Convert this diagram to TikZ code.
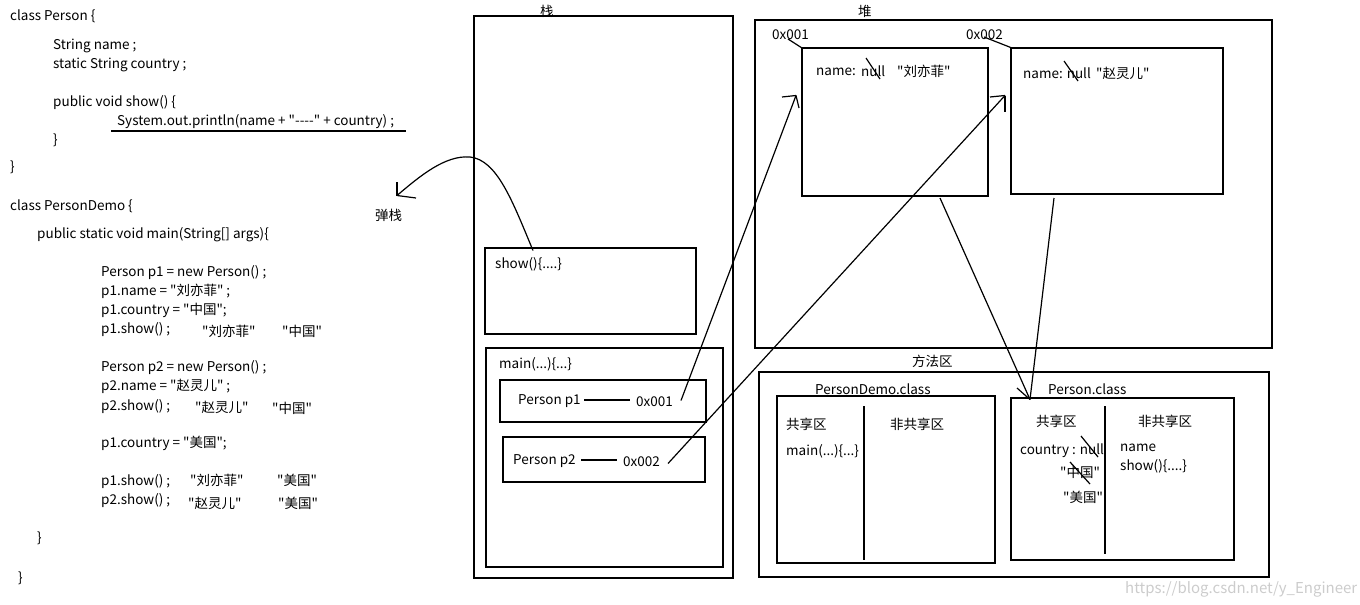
\documentclass[tikz,border=0pt]{standalone}
\usepackage{fontspec}
\newfontfamily\cjk{Noto Sans CJK SC}
\begin{document}
\begin{tikzpicture}[x=1pt,y=-1pt]
\tikzstyle{every node}+=[inner sep=0pt,anchor=west,yshift=-1.5pt,font=\cjk\fontsize{13.5}{15}\selectfont]
\tikzstyle{box}=[black,line width=1.8pt]
\tikzstyle{wire}=[black,line width=1.2pt]
\useasboundingbox (0,0) rectangle (1360,605);
% code on the left
\draw (10,15) node (clsP) {class Person \{};
\draw (53,44) node (fName) {String name ;};
\draw (53,63) node (fCountry) {static String country ;};
\draw (53,101) node (mShow) {public void show() \{};
\draw (117,120) node (println) {System.out.println(name + "----" + country) ;};
\draw [wire] (111,131) -- (406,131);
\draw (53,139) node (endShow) {\}};
\draw (10,166) node (endP) {\}};
\draw (10,205) node (clsD) {class PersonDemo \{};
\draw (37,233) node (mMain) {public static void main(String[] args)\{};
\draw (101,271) node (l1) {Person p1 = new Person() ;};
\draw (101,290) node (l2) {p1.name = "刘亦菲" ;};
\draw (101,309) node (l3) {p1.country = "中国";};
\draw (101,328) node (l4) {p1.show() ;};
\draw (202,330) node (o4a) {"刘亦菲"};
\draw (282,330) node (o4b) {"中国"};
\draw (101,366) node (l5) {Person p2 = new Person() ;};
\draw (101,385) node (l6) {p2.name = "赵灵儿" ;};
\draw (101,405) node (l7) {p2.show() ;};
\draw (195,406) node (o7a) {"赵灵儿"};
\draw (272,407) node (o7b) {"中国"};
\draw (101,442) node (l8) {p1.country = "美国";};
\draw (101,480) node (l9) {p1.show() ;};
\draw (190,479) node (o9a) {"刘亦菲"};
\draw (277,479) node (o9b) {"美国"};
\draw (101,499) node (l10) {p2.show() ;};
\draw (188,502) node (o10a) {"赵灵儿"};
\draw (278,502) node (o10b) {"美国"};
\draw (37,537) node (endMain) {\}};
\draw (18,577) node (endD) {\}};
% stack
\draw (540,10) node (stackLbl) {栈};
\draw [box] (474,16) rectangle (733,578);
\draw [box] (485,248) rectangle (696,334);
\draw (495,263) node (showFrame) {show()\{....\}};
\draw [box] (486,348) rectangle (723,567);
\draw (499,363) node (mainFrame) {main(...)\{...\}};
\draw [box] (500,380) rectangle (706,422);
\draw (518,400) node (p1var) {Person p1};
\draw (636,400) node (p1addr) {0x001};
\draw [wire] (584,400) -- (630,400);
\draw [box] (503,437) rectangle (705,482);
\draw (513,460) node (p2var) {Person p2};
\draw (623,460) node (p2addr) {0x002};
\draw [wire] (581,460) -- (617,460);
% pop arrow
\coordinate (popStart) at (533,249);
\coordinate (popTip) at (397,194);
\draw [wire] (popStart) .. controls (512,200) and (497,160) .. (470,157)
  .. controls (445,155) and (420,176) .. (popTip);
\draw [wire] (popTip) -- (397,182);
\draw [wire] (popTip) -- (416,198);
\draw (375,214) node (popLbl) {弹栈};
% heap
\draw (858,10) node (heapLbl) {堆};
\draw [box] (755,20) rectangle (1272,348);
\draw [box] (802,48) rectangle (988,196);
\draw (772,33) node (obj1addr) {0x001};
\draw [wire] (788,39) -- (802,48);
\draw (816,70) node (obj1name) {name:};
\draw (861,70) node (obj1null) {null};
\draw [wire] (866,58) -- (880,79);
\draw (897,70) node (obj1val) {"刘亦菲"};
\draw [box] (1011,48) rectangle (1223,194);
\draw (966,33) node (obj2addr) {0x002};
\draw [wire] (984,37) -- (1012,48);
\draw (1023,72) node (obj2name) {name: null};
\draw [wire] (1064,61) -- (1078,81);
\draw (1096,72) node (obj2val) {"赵灵儿"};
% references from stack to heap
\coordinate (ref1) at (681,399);
\coordinate (tip1) at (796,94);
\draw [wire] (ref1) -- (tip1);
\draw [wire] (tip1) -- (782,97);
\draw [wire] (tip1) -- (799,108);
\coordinate (ref2) at (668,462);
\coordinate (tip2) at (1005,94);
\draw [wire] (ref2) -- (tip2);
\draw [wire] (tip2) -- (990,97);
\draw [wire] (tip2) -- (1005,112);
% method area
\draw (912,360) node (methodLbl) {方法区};
\draw [box] (759,372) rectangle (1269,577);
\draw (815,388) node (demoCls) {PersonDemo.class};
\draw [box] (777,396) rectangle (995,563);
\draw [box] (864,406) -- (864,560);
\draw (786,423) node (demoShared) {共享区};
\draw (890,423) node (demoPrivate) {非共享区};
\draw (786,450) node (demoMain) {main(...)\{...\}};
\draw (1048,388) node (personCls) {Person.class};
\draw [box] (1011,398) rectangle (1234,560);
\draw [box] (1105,406) -- (1105,554);
\draw (1036,420) node (perShared) {共享区};
\draw (1138,420) node (perPrivate) {非共享区};
\draw (1020,449) node (perCountry) {country : null};
\draw [wire] (1081,436) -- (1098,457);
\draw (1060,471) node (perCN) {"中国"};
\draw [wire] (1070,462) -- (1090,484);
\draw (1063,496) node (perUS) {"美国"};
\draw (1120,446) node (perName) {name};
\draw (1120,465) node (perShow) {show()\{....\}};
% objects to their class
\coordinate (clsTip) at (1030,398);
\draw [wire] (940,198) -- (clsTip);
\draw [wire] (1054,198) -- (clsTip);
\draw [wire] (clsTip) -- (1017,388);
\draw (1125,588) node [text=gray!40,font=\cjk\fontsize{15}{17}\selectfont] (mark) {https://blog.csdn.net/y\_Engineer};
\end{tikzpicture}
\end{document}
